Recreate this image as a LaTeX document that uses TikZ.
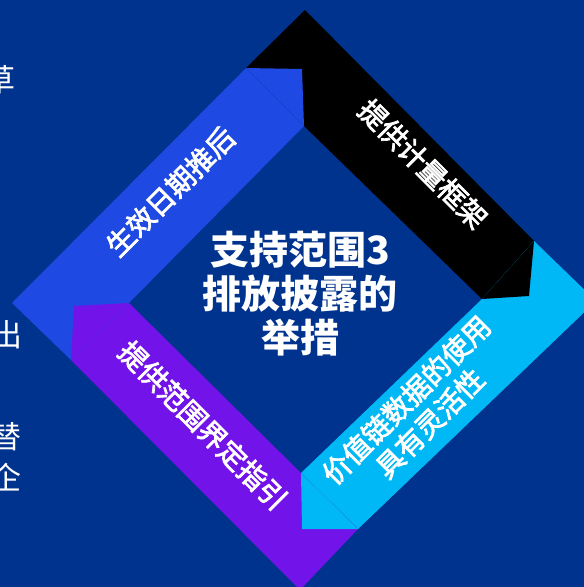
\documentclass[tikz,border=0pt]{standalone}
\usepackage{fontspec}
\newfontfamily\cjk{Noto Sans CJK SC}
\newfontfamily\cjkmed{Noto Sans CJK SC}[FakeBold=2.6]
\definecolor{bgblue}{HTML}{00338D}
\definecolor{segblue}{HTML}{1E49E2}
\definecolor{segcyan}{HTML}{00B8F5}
\definecolor{segpurple}{HTML}{7213EA}
\definecolor{segblack}{HTML}{000000}
\tikzset{
  lbl/.style={text=white, font=\cjkmed\fontsize{28}{33}\selectfont, inner sep=0pt, align=center},
  ctr/.style={text=white, font=\cjk\bfseries\fontsize{39}{44}\selectfont, inner sep=0pt, align=center},
  edgechar/.style={text=white, font=\cjk\fontsize{31}{38}\selectfont, inner sep=0pt}
}
\begin{document}
\begin{tikzpicture}[x=1pt,y=-1pt]
\useasboundingbox (0,0) rectangle (584,587);
\clip (0,0) rectangle (584,587);
\fill[bgblue] (0,0) rectangle (584,587);
% outer vertices
\coordinate (OT) at (305,10);
\coordinate (OR) at (596,301);
\coordinate (OB) at (300,590);
\coordinate (OL) at (12,303);
% inner vertices
\coordinate (IT) at (304,126);
\coordinate (IR) at (482,299);
\coordinate (IB) at (301,473);
\coordinate (IL) at (129,303);
% cut points on outer edges
\coordinate (Pt) at (246,68);
\coordinate (Pr) at (534,241);
\coordinate (Pb) at (358,529);
\coordinate (Pl) at (71,360);
% arrow head apexes
\coordinate (Ht) at (302,69);
\coordinate (Hr) at (529,296);
\coordinate (Hb) at (302,529);
\coordinate (Hl) at (74,306);
% bands
\fill[segblack]  (Pt) -- (OT) -- (Pr) -- (IR) -- (IT) -- cycle;
\fill[segcyan]   (Pr) -- (OR) -- (Pb) -- (IB) -- (IR) -- cycle;
\fill[segpurple] (Pb) -- (OB) -- (Pl) -- (IL) -- (IB) -- cycle;
\fill[segblue]   (Pl) -- (OL) -- (Pt) -- (IT) -- (IL) -- cycle;
% heads
\fill[segblue]   (Pt) -- (Ht) -- (IT) -- cycle;
\fill[segblack]  (Pr) -- (Hr) -- (IR) -- cycle;
\fill[segcyan]   (Pb) -- (Hb) -- (IB) -- cycle;
\fill[segpurple] (Pl) -- (Hl) -- (IL) -- cycle;
% labels
\node[lbl, rotate=45]  (lblue)   at (170.5,191.5) {生效日期推后};
\node[lbl, rotate=-45] (lblack)  at (423,164) {提供计量框架};
\node[lbl, rotate=45]  (lcyan)   at (418,411.5) {价值链数据的使用\\具有灵活性};
\node[lbl, rotate=-45] (lpurple) at (203,425.5) {提供范围界定指引};
\node[ctr] (center) at (300,294) {支持范围3\\排放披露的\\举措};
% cut-off text at left edge
\node[edgechar] (c1) at (0,80) {草};
\node[edgechar] (c2) at (7,335) {出};
\node[edgechar] (c3) at (6,437) {替};
\node[edgechar] (c4) at (6,477) {企};
\end{tikzpicture}
\end{document}
